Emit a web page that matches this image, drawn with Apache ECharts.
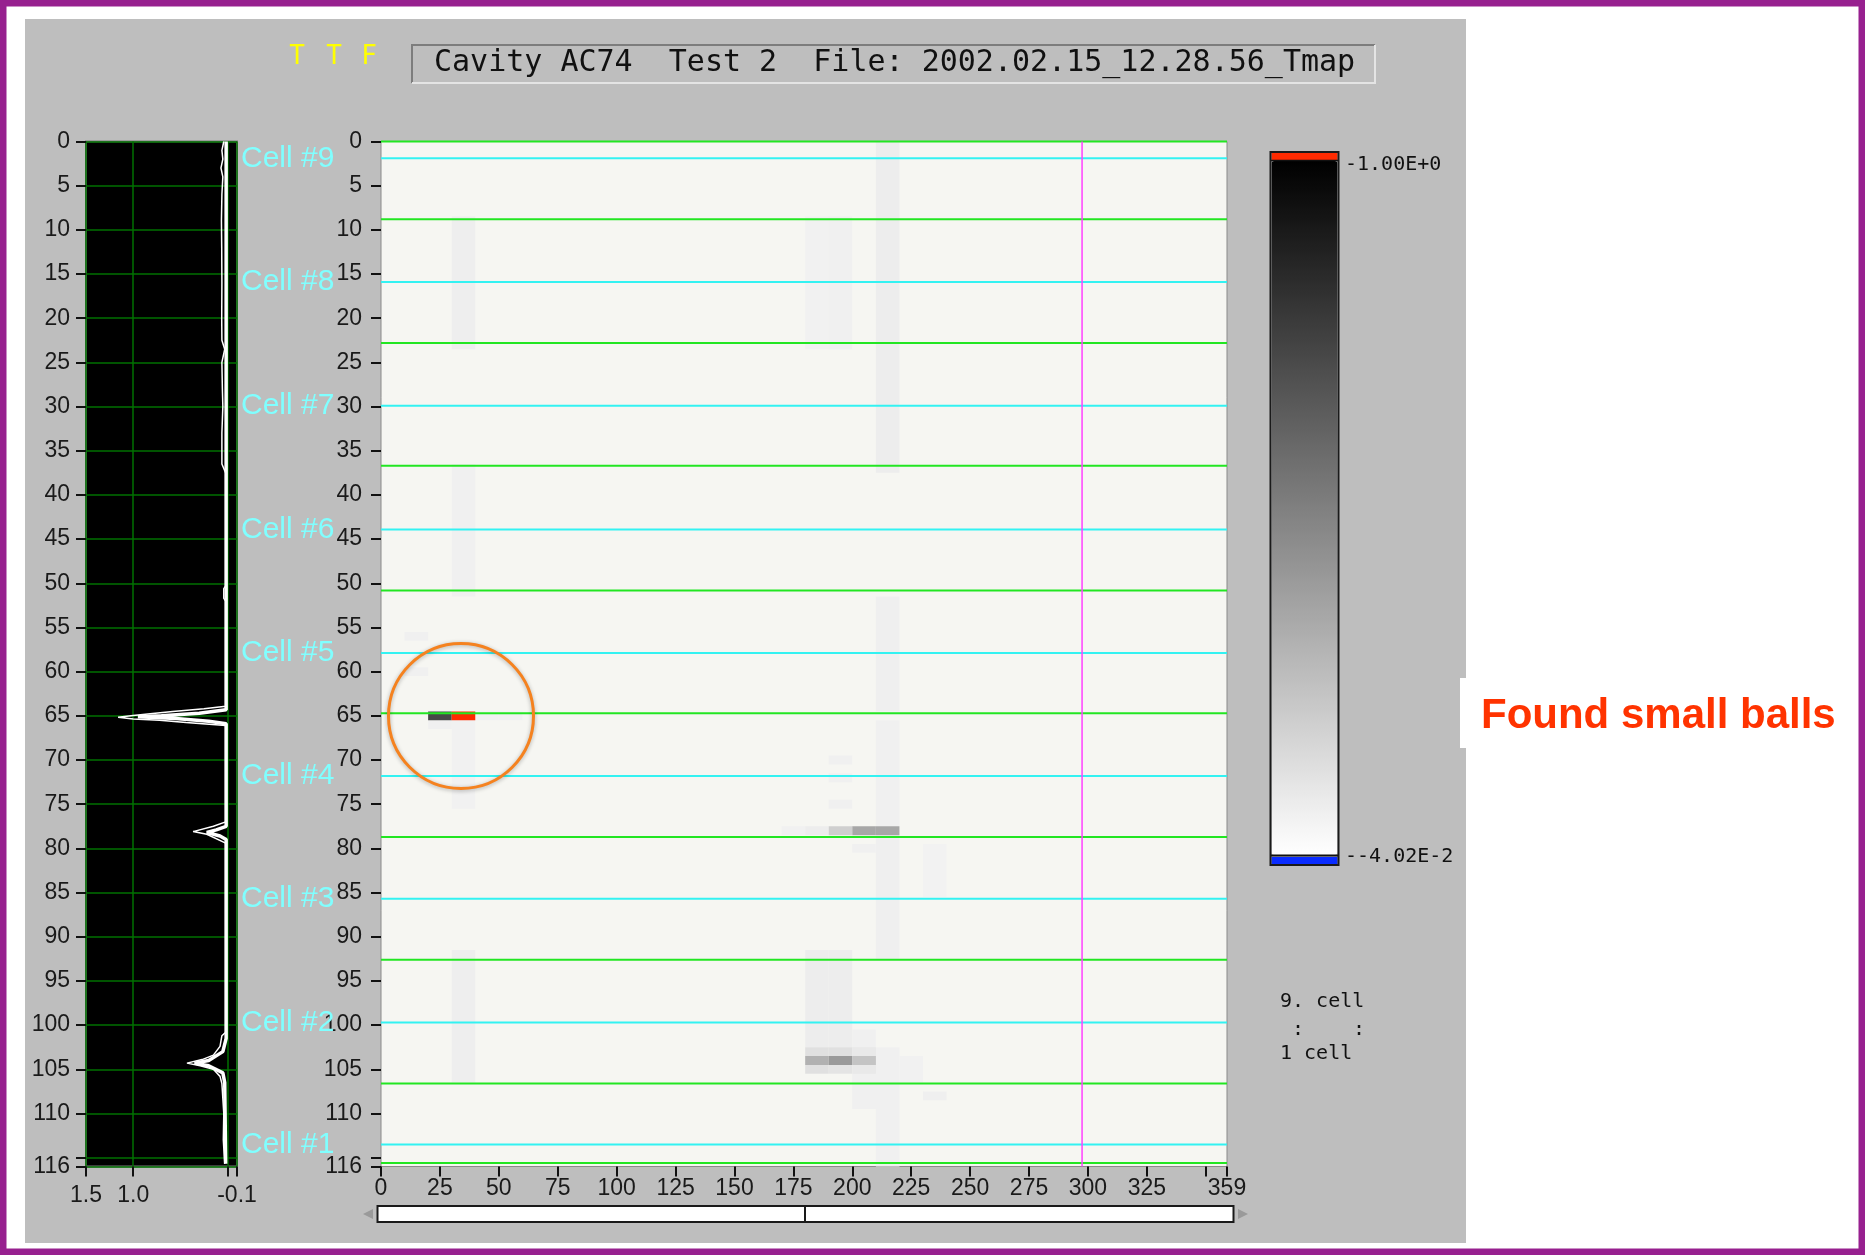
<!DOCTYPE html>
<html>
<head>
<meta charset="utf-8">
<title>Cavity AC74 Tmap</title>
<script src="https://cdn.jsdelivr.net/npm/echarts@6/dist/echarts.min.js"></script>
<style>
  html, body { margin: 0; padding: 0; background: #fff; }
  #main { width: 1865px; height: 1255px; }
</style>
</head>
<body>
<div id="main"></div>
<script>
// ---- data ----
// thermometer rows along the cavity (0 = top) and azimuth in degrees
var depthTicks = [0, 5, 10, 15, 20, 25, 30, 35, 40, 45, 50, 55, 60, 65, 70, 75, 80, 85, 90, 95, 100, 105, 110, 115, 116];
var depthLabels = [0, 5, 10, 15, 20, 25, 30, 35, 40, 45, 50, 55, 60, 65, 70, 75, 80, 85, 90, 95, 100, 105, 110, 116];
var angleTicks = [0, 25, 50, 75, 100, 125, 150, 175, 200, 225, 250, 275, 300, 325, 350, 359];
var angleLabels = [0, 25, 50, 75, 100, 125, 150, 175, 200, 225, 250, 275, 300, 325, 359];
var ampTicks = [1.5, 1.0, 0, -0.1];
var ampLabels = [1.5, 1.0, -0.1];

// iris (green) and equator (cyan) rows, cell names at the equators
var irisRows = [0, 8.8, 22.8, 36.7, 50.8, 64.7, 78.7, 92.6, 106.6, 115.6];
var equatorRows = [1.9, 15.9, 29.9, 43.9, 57.9, 71.8, 85.7, 99.7, 113.5];
var cellNames = ['Cell #9', 'Cell #8', 'Cell #7', 'Cell #6', 'Cell #5', 'Cell #4', 'Cell #3', 'Cell #2', 'Cell #1'];
var markerAngle = 297.5;

// side profile: row position and value (outer trace / inner trace)
var profileMaxRows = [0, 1, 2, 3, 4, 6, 9, 12, 16, 20, 22.5, 23.5, 25, 28, 30, 33, 36.5, 37.5, 50.3, 50.6, 51.7, 52,
  63.9, 64.2, 64.5, 64.75, 64.95, 65.15, 65.35, 65.5, 65.75, 66.1, 77.0, 77.5, 78.1, 78.4, 79.4,
  100.8, 101.2, 102.4, 103.4, 103.9, 104.3, 104.6, 105.0, 105.8, 106.6, 110, 113, 115.7];
var profileMaxVals = [0.04, 0.06, 0.05, 0.07, 0.05, 0.06, 0.065, 0.062, 0.06, 0.062, 0.06, 0.03, 0.06, 0.055, 0.05, 0.06, 0.06, 0.02, 0.02, 0.04, 0.04, 0.02,
  0.02, 0.25, 0.58, 0.82, 1.0, 1.16, 1.0, 0.72, 0.44, 0.02, 0.02, 0.15, 0.365, 0.22, 0.02,
  0.02, 0.06, 0.08, 0.15, 0.27, 0.43, 0.29, 0.15, 0.08, 0.06, 0.04, 0.045, 0.03];
var profileMeanRows = [0, 37.5, 50.2, 51.8, 64.3, 64.7, 65.0, 65.1, 65.3, 65.6, 65.9, 77.5, 77.9, 78.2, 78.6, 79.0,
  101.5, 103.0, 104.0, 104.3, 104.6, 105.4, 106.5, 115.7];
var profileMeanVals = [0.015, 0.015, 0.015, 0.015, 0.015, 0.3, 0.7, 0.95, 0.55, 0.2, 0.015, 0.015, 0.12, 0.22, 0.08, 0.015,
  0.015, 0.05, 0.2, 0.35, 0.2, 0.05, 0.03, 0.02];

// map cells: [azimuth bin (10 deg), first row, last row, value]
var binDeg = 10;
var mapCells = [
  [3, 9, 23, 0.03], [3, 37, 51, 0.02], [3, 66, 75, 0.018], [3, 92, 106, 0.03],
  [18, 9, 23, 0.015], [19, 9, 23, 0.02],
  [21, 0, 37, 0.032], [21, 52, 64, 0.025], [21, 66, 77, 0.02], [21, 79, 92, 0.025],
  [18, 92, 102, 0.035], [19, 92, 102, 0.035], [20, 101, 109, 0.02], [21, 103, 116, 0.02],
  [1, 56, 56, 0.02], [1, 60, 60, 0.02], [2, 66, 66, 0.02],
  [19, 70, 70, 0.02], [19, 72, 72, 0.02], [19, 75, 75, 0.02], [20, 80, 80, 0.02],
  [23, 80, 85, 0.012], [23, 108, 108, 0.025], [22, 104, 106, 0.018],
  [18, 103, 103, 0.086], [19, 103, 103, 0.086], [18, 105, 105, 0.086], [19, 105, 105, 0.07], [20, 103, 105, 0.05],
  [18, 104, 104, 0.28], [19, 104, 104, 0.372], [20, 104, 104, 0.20],
  [17, 78, 78, 0.018], [18, 78, 78, 0.035], [19, 78, 78, 0.156], [20, 78, 78, 0.319], [21, 78, 78, 0.319],
  [4, 65, 65, 0.018], [5, 65, 65, 0.018],
  [2, 65, 65, 0.71], [3, 65, 65, 1.16]
];
var scaleMin = -0.0402;
var scaleMax = 1.0;

// ---- chart ----
(function () {
  var chart = echarts.init(document.getElementById('main'));
  var numFont = 'Liberation Sans';
  var overColor = '#ff2a00';

  function zip(rows, vals) {
    return rows.map(function (r, i) { return [vals[i], r]; });
  }

  function renderCell(params, api) {
    var a = api.coord([api.value(0) * binDeg, api.value(1) - 0.5]);
    var b = api.coord([api.value(0) * binDeg + binDeg, api.value(2) + 0.5]);
    // values above the colour scale are shown in the overflow colour
    var fill = api.value(3) > scaleMax ? overColor : api.visual('color');
    return {
      type: 'rect',
      shape: { x: a[0], y: a[1], width: b[0] - a[0], height: b[1] - a[1] },
      style: { fill: fill }
    };
  }

  function rowLine(color) {
    return function (params, api) {
      var a = api.coord([0, api.value(1)]);
      var b = api.coord([359, api.value(1)]);
      return {
        type: 'line',
        shape: { x1: a[0], y1: a[1], x2: b[0], y2: b[1] },
        style: { stroke: color, lineWidth: 2 }
      };
    };
  }

  var depthAxis = function (gi, margin) {
    return {
      gridIndex: gi, type: 'value', min: 0, max: 116, inverse: true,
      axisLine: { show: false, onZero: false },
      axisTick: { show: true, length: 10, customValues: depthTicks, lineStyle: { color: '#111', width: 2 } },
      axisLabel: { customValues: depthLabels, margin: margin, color: '#1a1a1a', fontFamily: numFont, fontSize: 23 },
      splitLine: gi === 0 ? { show: true, lineStyle: { color: '#007000', width: 1.5 } } : { show: false }
    };
  };

  var option = {
    animation: false,
    grid: [
      { left: 86, top: 141.5, width: 151, height: 1025, show: true, backgroundColor: '#000', borderColor: '#7a7a7a', borderWidth: 2 },
      { left: 381, top: 141.5, width: 846, height: 1025, show: true, backgroundColor: '#f6f6f2', borderColor: '#8a8a8a', borderWidth: 1 }
    ],
    xAxis: [
      {
        gridIndex: 0, type: 'value', min: -0.1, max: 1.5, inverse: true, position: 'bottom',
        axisLine: { show: false, onZero: false },
        axisTick: { show: true, length: 10, customValues: ampTicks, lineStyle: { color: '#111', width: 2 } },
        axisLabel: {
          customValues: ampLabels, margin: 18, color: '#1a1a1a', fontFamily: numFont, fontSize: 23,
          formatter: function (v) { return v.toFixed(1); }
        },
        splitLine: { show: true, lineStyle: { color: '#007000', width: 1.5 } }
      },
      {
        gridIndex: 1, type: 'value', min: 0, max: 359, position: 'bottom',
        axisLine: { show: false, onZero: false },
        axisTick: { show: true, length: 10, customValues: angleTicks, lineStyle: { color: '#111', width: 2 } },
        axisLabel: { customValues: angleLabels, margin: 11, color: '#1a1a1a', fontFamily: numFont, fontSize: 23 },
        splitLine: { show: false }
      }
    ],
    yAxis: [depthAxis(0, 16), depthAxis(1, 19)],
    visualMap: {
      type: 'continuous',
      seriesIndex: 2,
      dimension: 3,
      min: scaleMin,
      max: scaleMax,
      inRange: { color: ['#ffffff', '#000000'] },
      orient: 'vertical',
      left: 1271.5,
      top: 161,
      itemWidth: 66,
      itemHeight: 694,
      padding: 0,
      calculable: false,
      hoverLink: false,
      showLabel: false
    },
    series: [
      {
        name: 'max', type: 'line', xAxisIndex: 0, yAxisIndex: 0,
        data: zip(profileMaxRows, profileMaxVals),
        showSymbol: false, symbol: 'none',
        lineStyle: { color: '#ffffff', width: 1.5 }, z: 3
      },
      {
        name: 'mean', type: 'line', xAxisIndex: 0, yAxisIndex: 0,
        data: zip(profileMeanRows, profileMeanVals),
        showSymbol: false, symbol: 'none',
        lineStyle: { color: '#ffffff', width: 3.5 }, z: 3
      },
      {
        name: 'map', type: 'custom', xAxisIndex: 1, yAxisIndex: 1,
        data: mapCells, renderItem: renderCell, clip: true, z: 2
      },
      {
        name: 'iris', type: 'custom', xAxisIndex: 1, yAxisIndex: 1,
        data: irisRows.map(function (r) { return [0, r]; }),
        renderItem: rowLine('#22e622'), z: 3
      },
      {
        name: 'equator', type: 'custom', xAxisIndex: 1, yAxisIndex: 1,
        data: equatorRows.map(function (r) { return [0, r]; }),
        renderItem: rowLine('#33f2f2'), z: 3
      },
      {
        name: 'marker', type: 'custom', xAxisIndex: 1, yAxisIndex: 1,
        data: [[markerAngle, 0]],
        renderItem: function (params, api) {
          var a = api.coord([api.value(0), 0]);
          var b = api.coord([api.value(0), 116]);
          return {
            type: 'line',
            shape: { x1: a[0], y1: a[1], x2: b[0], y2: b[1] },
            style: { stroke: '#ff40ff', lineWidth: 1.5 }
          };
        },
        z: 4
      },
      {
        name: 'cells', type: 'custom', xAxisIndex: 0, yAxisIndex: 0,
        data: equatorRows.map(function (r) { return [-0.1, r]; }),
        clip: false,
        renderItem: function (params, api) {
          var p = api.coord([api.value(0), api.value(1)]);
          return {
            type: 'text',
            x: p[0] + 4, y: p[1],
            style: {
              text: cellNames[params.dataIndex],
              fill: '#80ffff', font: '30px "Liberation Sans"',
              align: 'left', verticalAlign: 'middle'
            }
          };
        },
        z: 6
      }
    ],
    graphic: [
      // panel and frame
      { type: 'rect', z: -100, shape: { x: 25, y: 19, width: 1441, height: 1224 }, style: { fill: '#bebebe' } },
      { type: 'rect', z: -50, shape: { x: 1460, y: 678, width: 396, height: 70 }, style: { fill: '#ffffff' } },
      { type: 'rect', z: 20, shape: { x: 3.25, y: 3.25, width: 1858.5, height: 1248.5 }, style: { fill: 'none', stroke: '#97208f', lineWidth: 6.5 } },
      // header
      { type: 'text', x: 297, y: 57, style: { text: 'T', fill: '#ffff00', font: '26px "DejaVu Sans Mono"', align: 'center', verticalAlign: 'middle' } },
      { type: 'text', x: 334, y: 57, style: { text: 'T', fill: '#ffff00', font: '26px "DejaVu Sans Mono"', align: 'center', verticalAlign: 'middle' } },
      { type: 'text', x: 369, y: 57, style: { text: 'F', fill: '#ffff00', font: '26px "DejaVu Sans Mono"', align: 'center', verticalAlign: 'middle' } },
      { type: 'polyline', shape: { points: [[412, 83], [412, 45], [1375, 45]] }, style: { stroke: '#7d7d7d', lineWidth: 2, fill: 'none' } },
      { type: 'polyline', shape: { points: [[1375, 45], [1375, 83], [412, 83]] }, style: { stroke: '#e4e4e4', lineWidth: 2, fill: 'none' } },
      { type: 'text', x: 434, y: 63, style: { text: 'Cavity AC74  Test 2  File: 2002.02.15_12.28.56_Tmap', fill: '#111', font: '30px "DejaVu Sans Mono"', align: 'left', verticalAlign: 'middle' } },
      // scroll bar
      { type: 'rect', shape: { x: 377.5, y: 1206, width: 856, height: 16 }, style: { fill: '#ffffff', stroke: '#1a1a1a', lineWidth: 2 } },
      { type: 'line', shape: { x1: 805, y1: 1206, x2: 805, y2: 1222 }, style: { stroke: '#1a1a1a', lineWidth: 2 } },
      { type: 'polygon', shape: { points: [[373, 1209], [373, 1219], [363, 1214]] }, style: { fill: '#9a9a9a' } },
      { type: 'polygon', shape: { points: [[1238, 1209], [1238, 1219], [1248, 1214]] }, style: { fill: '#9a9a9a' } },
      // colour bar ends and frame
      { type: 'rect', z: 10, shape: { x: 1271.5, y: 153, width: 66, height: 7 }, style: { fill: overColorHex() } },
      { type: 'rect', z: 10, shape: { x: 1271.5, y: 857, width: 66, height: 7 }, style: { fill: '#0a2cff' } },
      { type: 'line', z: 10, shape: { x1: 1271, y1: 160.5, x2: 1338, y2: 160.5 }, style: { stroke: '#111', lineWidth: 1.5 } },
      { type: 'line', z: 10, shape: { x1: 1271, y1: 855.5, x2: 1338, y2: 855.5 }, style: { stroke: '#111', lineWidth: 2 } },
      { type: 'rect', z: 10, shape: { x: 1270.5, y: 152, width: 68, height: 713 }, style: { fill: 'none', stroke: '#1a1a1a', lineWidth: 2 } },
      { type: 'text', x: 1345, y: 165, style: { text: '-1.00E+0', fill: '#111', font: '20px "DejaVu Sans Mono"', align: 'left', verticalAlign: 'middle' } },
      { type: 'text', x: 1345, y: 857, style: { text: '--4.02E-2', fill: '#111', font: '20px "DejaVu Sans Mono"', align: 'left', verticalAlign: 'middle' } },
      { type: 'text', x: 1280, y: 1002, style: { text: '9. cell', fill: '#111', font: '20px "DejaVu Sans Mono"', align: 'left', verticalAlign: 'middle' } },
      { type: 'text', x: 1298, y: 1030, style: { text: ':', fill: '#111', font: '20px "DejaVu Sans Mono"', align: 'center', verticalAlign: 'middle' } },
      { type: 'text', x: 1359, y: 1030, style: { text: ':', fill: '#111', font: '20px "DejaVu Sans Mono"', align: 'center', verticalAlign: 'middle' } },
      { type: 'text', x: 1280, y: 1054, style: { text: '1 cell', fill: '#111', font: '20px "DejaVu Sans Mono"', align: 'left', verticalAlign: 'middle' } },
      // annotation
      { type: 'circle', z: 8, shape: { cx: 461, cy: 716, r: 72.5 }, style: { fill: 'none', stroke: '#f5821f', lineWidth: 3, shadowBlur: 4, shadowColor: 'rgba(0,0,0,0.3)', shadowOffsetY: 1 } },
      { type: 'text', x: 1481, y: 716, style: { text: 'Found small balls', fill: '#ff3300', font: 'bold 42px "Liberation Sans"', align: 'left', verticalAlign: 'middle' } }
    ]
  };

  function overColorHex() { return overColor; }

  chart.setOption(option);
})();
</script>
</body>
</html>
